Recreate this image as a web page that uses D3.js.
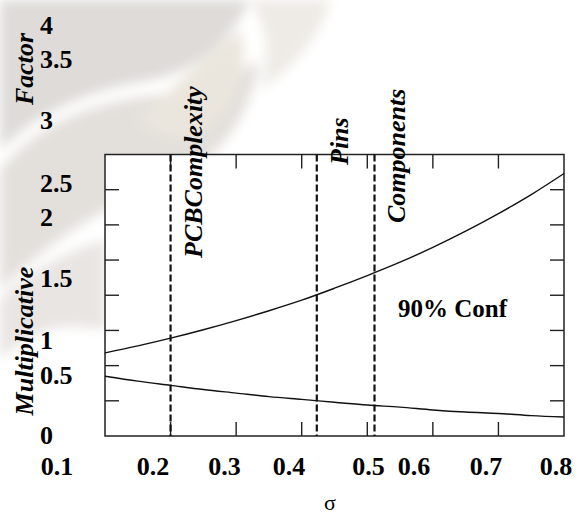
<!DOCTYPE html>
<html>
<head>
<meta charset="utf-8">
<script src="https://cdn.jsdelivr.net/npm/d3@7"></script>
<style>
  body { margin: 0; background: #fff; }
  svg { display: block; }
</style>
</head>
<body>
<script>
// sigma values sampled along the curves
const sigma = [0.1, 0.15, 0.2, 0.25, 0.3, 0.35, 0.4, 0.45, 0.5, 0.55, 0.6, 0.65, 0.7, 0.75, 0.8];
// 90% confidence bounds on the multiplicative factor
const upperBound = [1.18, 1.28, 1.39, 1.51, 1.64, 1.78, 1.93, 2.10, 2.28, 2.47, 2.68, 2.91, 3.16, 3.43, 3.73];
const lowerBound = [0.85, 0.78, 0.72, 0.66, 0.61, 0.56, 0.52, 0.48, 0.44, 0.41, 0.37, 0.34, 0.32, 0.29, 0.27];

// reference lines
const markerNames = ["PCBComplexity", "Pins", "Components"];
const markerSigma = [0.2, 0.423, 0.511];

const xTickValues = [0.2, 0.3, 0.4, 0.5, 0.6, 0.7];
const yTickValues = [0.5, 1, 1.5, 2, 2.5, 3, 3.5];
const xTickLabels = ["0.1", "0.2", "0.3", "0.4", "0.5", "0.6", "0.7", "0.8"];
const yTickLabels = ["0", "0.5", "1", "1.5", "2", "2.5", "3", "3.5", "4"];

const width = 586;
const height = 516;
const plot = { left: 105, right: 564, top: 154.5, bottom: 436 };

const svg = d3.select("body")
  .append("svg")
  .attr("width", width)
  .attr("height", height);

// faded watermark behind the chart
const defs = svg.append("defs");
defs.append("filter")
  .attr("id", "soft")
  .attr("x", "-30%").attr("y", "-30%")
  .attr("width", "160%").attr("height", "160%")
  .append("feGaussianBlur")
  .attr("stdDeviation", 6);

const mark = svg.append("g").attr("filter", "url(#soft)");
mark.append("path")
  .attr("d", "M0,0 L250,0 C230,40 200,70 150,80 C90,90 40,110 0,150 Z")
  .attr("fill", "#dedbd8");
mark.append("path")
  .attr("d", "M0,170 C40,120 100,100 160,95 C200,90 230,80 260,60 C250,110 230,150 180,175 C120,200 60,230 0,290 Z")
  .attr("fill", "#e3e0dc");
mark.append("path")
  .attr("d", "M140,120 C170,90 200,60 240,30 C250,60 240,100 205,130 C190,140 160,140 140,120 Z")
  .attr("fill", "#ebe6dd");
mark.append("path")
  .attr("d", "M0,300 C30,270 70,250 105,240 L105,330 C60,320 30,330 0,360 Z")
  .attr("fill", "#e8e5e2");
mark.append("path")
  .attr("d", "M250,0 L330,0 C320,40 290,70 260,90 C270,60 270,30 250,0 Z")
  .attr("fill", "#eeebe6");

const x = d3.scaleLinear().domain([0.1, 0.8]).range([plot.left, plot.right]);
const y = d3.scaleLinear().domain([0, 4]).range([plot.bottom, plot.top]);

// plot area
svg.append("rect")
  .attr("x", plot.left)
  .attr("y", plot.top)
  .attr("width", plot.right - plot.left)
  .attr("height", plot.bottom - plot.top)
  .attr("fill", "#fff")
  .attr("stroke", "#222")
  .attr("stroke-width", 1.5);

const tickLen = 14;
const ticks = svg.append("g").attr("stroke", "#222").attr("stroke-width", 1.4);
xTickValues.forEach((v) => {
  ticks.append("line")
    .attr("x1", x(v)).attr("x2", x(v))
    .attr("y1", plot.bottom).attr("y2", plot.bottom - tickLen);
  ticks.append("line")
    .attr("x1", x(v)).attr("x2", x(v))
    .attr("y1", plot.top).attr("y2", plot.top + tickLen);
});
yTickValues.forEach((v) => {
  ticks.append("line")
    .attr("x1", plot.left).attr("x2", plot.left + tickLen)
    .attr("y1", y(v)).attr("y2", y(v));
  ticks.append("line")
    .attr("x1", plot.right).attr("x2", plot.right - tickLen)
    .attr("y1", y(v)).attr("y2", y(v));
});

// dashed reference lines
svg.append("g")
  .selectAll("line")
  .data(markerSigma)
  .join("line")
  .attr("x1", (d) => x(d))
  .attr("x2", (d) => x(d))
  .attr("y1", plot.top)
  .attr("y2", plot.bottom)
  .attr("stroke", "#111")
  .attr("stroke-width", 2.2)
  .attr("stroke-dasharray", "7,3");

// bound curves
const line = d3.line()
  .x((d) => x(d[0]))
  .y((d) => y(d[1]))
  .curve(d3.curveMonotoneX);

[upperBound, lowerBound].forEach((series) => {
  svg.append("path")
    .datum(sigma.map((s, i) => [s, series[i]]))
    .attr("d", line)
    .attr("fill", "none")
    .attr("stroke", "#111")
    .attr("stroke-width", 1.4);
});

const serif = "'Liberation Serif', 'Times New Roman', serif";

// tick labels (placed where the original figure has them)
const xLabelPos = d3.scaleLinear()
  .domain([0.1, 0.2, 0.3, 0.4, 0.5, 0.6, 0.7, 0.8])
  .range([57, 153, 224.5, 289, 368.5, 414, 486, 556]);
const yLabelPos = d3.scaleLinear()
  .domain([0, 0.5, 1, 1.5, 2, 2.5, 3, 3.5, 4])
  .range([444, 384, 349, 287, 226, 192, 129, 68, 34]);

svg.append("g")
  .selectAll("text")
  .data(xTickLabels)
  .join("text")
  .attr("x", (d) => xLabelPos(+d))
  .attr("y", 475)
  .attr("text-anchor", "middle")
  .attr("font-family", serif)
  .attr("font-weight", "bold")
  .attr("font-size", 26)
  .text((d) => d);

svg.append("g")
  .selectAll("text")
  .data(yTickLabels)
  .join("text")
  .attr("x", 40)
  .attr("y", (d) => yLabelPos(+d))
  .attr("font-family", serif)
  .attr("font-weight", "bold")
  .attr("font-size", 26)
  .text((d) => d);

// axis titles
const yTitle = [["Factor", 69], ["Multiplicative", 341]];
yTitle.forEach(([t, cy]) => {
  svg.append("text")
    .attr("transform", `translate(33,${cy}) rotate(-90)`)
    .attr("text-anchor", "middle")
    .attr("font-family", serif)
    .attr("font-weight", "bold")
    .attr("font-style", "italic")
    .attr("font-size", 26)
    .text(t);
});

svg.append("text")
  .attr("x", 330)
  .attr("y", 510)
  .attr("text-anchor", "middle")
  .attr("font-family", serif)
  .attr("font-size", 22)
  .text("σ");

// rotated labels next to the dashed lines
const markerLabelBase = [258, 165, 223];
markerNames.forEach((name, i) => {
  svg.append("text")
    .attr("transform", `translate(${x(markerSigma[i]) + 31},${markerLabelBase[i]}) rotate(-90)`)
    .attr("font-family", serif)
    .attr("font-weight", "bold")
    .attr("font-style", "italic")
    .attr("font-size", 26)
    .text(name);
});

svg.append("text")
  .attr("x", 398)
  .attr("y", 317)
  .attr("font-family", serif)
  .attr("font-weight", "bold")
  .attr("font-size", 25)
  .text("90% Conf");
</script>
</body>
</html>
